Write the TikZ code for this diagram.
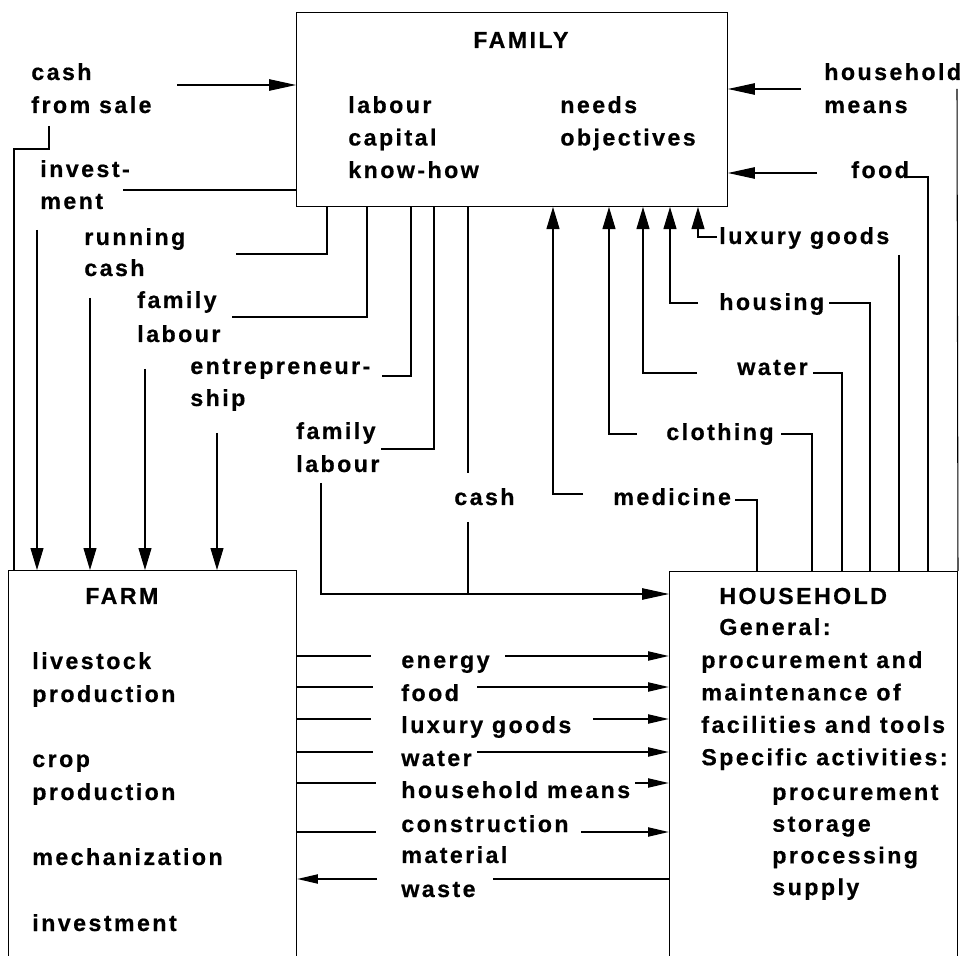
\documentclass[tikz,border=0pt]{standalone}
\usepackage{fontspec}
\newfontfamily\labfont{Liberation Sans Bold}[LetterSpace=10.5, FakeBold=0.6]
\usetikzlibrary{arrows.meta}

\tikzset{
	txt/.style = {anchor=base west, inner sep=0pt, font=\labfont\fontsize{13.2}{16}\selectfont},
	box/.style = {draw, line width=0.6pt, anchor=north west, inner sep=0pt},
	wire/.style = {line width=0.6pt},
	side/.style = {wire, -{Triangle[length=0.54cm, width=0.23cm]}},
	up/.style = {wire, -{Triangle[length=0.44cm, width=0.26cm]}},
	goods/.style = {line width=1.2pt},
	goodsto/.style = {goods, -{Triangle[length=0.42cm, width=0.18cm]}}
}

\begin{document}
\begin{tikzpicture}[
			x = 0.02cm,
			y = -0.02cm
			]

			\useasboundingbox (0,0) rectangle (965,956);

			% the three blocks
			\node[box, minimum width=8.62cm, minimum height=3.88cm] (fam) at (296,12) {};
			\node[box, minimum width=5.76cm, minimum height=8cm] (farm) at (8,570) {};
			\node[box, minimum width=5.76cm, minimum height=8cm] (hh) at (669,571) {};

			% family
			\node[txt] (famT) at (473,48) {FAMILY};
			\foreach \t [count=\i] in {labour,capital,know-how}
				\node[txt] (famL\i) at (348,{113+32.5*(\i-1)}) {\t};
			\foreach \t [count=\i] in {needs,objectives}
				\node[txt] (famR\i) at (560,{113+32.5*(\i-1)}) {\t};

			% farm
			\node[txt] (farmT) at (85,604) {FARM};
			\foreach \t/\yy [count=\i] in {livestock/669,production/702,crop/767,production/800,mechanization/865,investment/931}
				\node[txt] (farm\i) at (32,\yy) {\t};

			% household
			\node[txt] (hhT) at (719,604) {HOUSEHOLD};
			\node[txt] (hhG) at (719,635) {General:};
			\foreach \t [count=\i] in {procurement and,maintenance of,facilities and tools,Specific activities:}
				\node[txt] (hhA\i) at (701,{668+32.4*(\i-1)}) {\t};
			\foreach \t [count=\i] in {procurement,storage,processing,supply}
				\node[txt] (hhB\i) at (772,{800+31.7*(\i-1)}) {\t};

			% flows into the farm
			\node[txt] (sale1) at (31,80) {cash};
			\node[txt] (sale2) at (31,113) {from sale};
			\node[txt] (inv1) at (40,177) {invest-};
			\node[txt] (inv2) at (40,209) {ment};
			\node[txt] (run1) at (84,245) {running};
			\node[txt] (run2) at (84,276) {cash};
			\node[txt] (lab1) at (137,308) {family};
			\node[txt] (lab2) at (137,342) {labour};
			\node[txt] (ent1) at (190,374) {entrepreneur-};
			\node[txt] (ent2) at (190,406) {ship};

			\draw[side] (177,85) -- (fam.west |- 0,85);
			\draw[wire] (49,126) -- (49,149) -- (14,149) -- (farm.north -| 14,0);
			\draw[wire] (fam.west |- 0,190) -- (123,190);
			\draw[up] (37,230) -- (farm.north -| 37,0);
			\draw[wire] (fam.south -| 327,0) -- (327,254) -- (236,254);
			\draw[up] (90,298) -- (farm.north -| 90,0);
			\draw[wire] (fam.south -| 367,0) -- (367,317) -- (232,317);
			\draw[up] (145,369) -- (farm.north -| 145,0);
			\draw[wire] (fam.south -| 411,0) -- (411,376) -- (382,376);
			\draw[up] (217,433) -- (farm.north -| 217,0);

			% flows into the household
			\node[txt] (hl1) at (296,439) {family};
			\node[txt] (hl2) at (296,472) {labour};
			\node[txt] (cash) at (454,505) {cash};

			\draw[wire] (fam.south -| 434,0) -- (434,449) -- (381,449);
			\draw[side] (321,483) -- (321,594) -- (hh.west |- 0,594);
			\draw[wire] (fam.south -| 468,0) -- (468,473);
			\draw[wire] (468,522) -- (468,594);

			% household to family
			\node[txt] (hm1) at (824,80) {household};
			\node[txt] (hm2) at (824,113) {means};
			\node[txt] (food) at (851,178) {food};
			\node[txt] (lux) at (719,244) {luxury goods};
			\node[txt] (hous) at (719,310) {housing};
			\node[txt] (wat) at (737,375) {water};
			\node[txt] (clo) at (666,440) {clothing};
			\node[txt] (med) at (613,505) {medicine};

			\draw[side] (801,89) -- (fam.east |- 0,89);
			\draw[wire] (957,89) -- (hh.north east);
			\draw[side] (817,173) -- (fam.east |- 0,173);
			\draw[wire] (907,177) -- (928,177) -- (hh.north -| 928,0);

			\draw[up] (717,237) -- (698,237) -- (fam.south -| 698,0);
			\draw[wire] (899,255) -- (hh.north -| 899,0);
			\foreach \xl/\xa/\yy in {698/670/303, 697/643/373, 637/609/434, 583/553/494}{
				\draw[up] (\xl,\yy) -- (\xa,\yy) -- (fam.south -| \xa,0);
			}
			\draw[wire] (829,303) -- (870,303) -- (hh.north -| 870,0);
			\draw[wire] (813,373) -- (842,373) -- (hh.north -| 842,0);
			\draw[wire] (781,434) -- (812,434) -- (hh.north -| 812,0);
			\draw[wire] (735,500) -- (757,500) -- (hh.north -| 757,0);

			% goods between farm and household
			\foreach \t/\yy [count=\i] in {energy/668,food/701,luxury goods/733,water/766,household means/798,construction/832,material/863,waste/897}
				\node[txt] (good\i) at (401,\yy) {\t};

			\foreach \yy/\xa/\xb in {656/371/505, 687/373/477, 719/371/593, 752/373/477, 783/376/635, 832/376/581}{
				\draw[goods] (farm.east |- 0,\yy) -- (\xa,\yy);
				\draw[goodsto] (\xb,\yy) -- (hh.west |- 0,\yy);
			}
			\draw[goods] (hh.west |- 0,879) -- (493,879);
			\draw[goodsto] (377,879) -- (farm.east |- 0,879);

		\end{tikzpicture}
\end{document}
